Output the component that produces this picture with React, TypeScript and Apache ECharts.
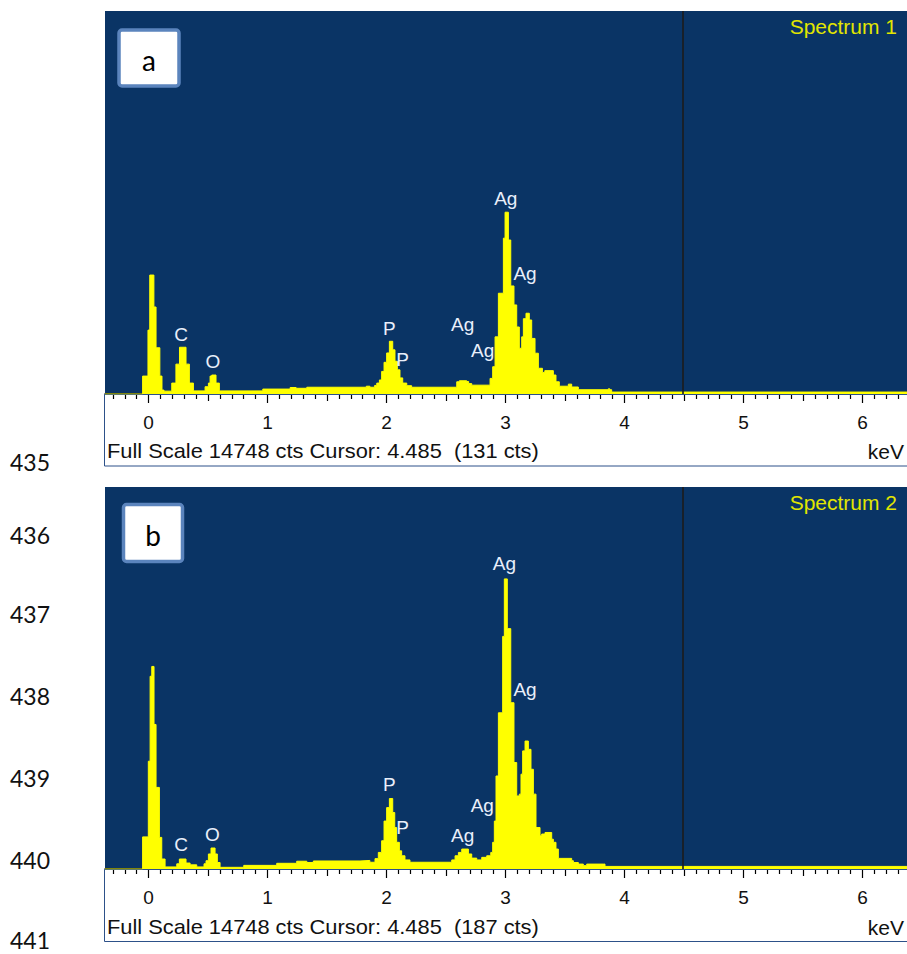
import React, { useEffect, useRef } from "react";
import * as echarts from "echarts";

// ---- data (keV left edge of step, counts) ----
const spectrumA: [number, number][] = [
  [-0.366, 0], [-0.05, 690], [-0.005, 2460], [0.01, 4580], [0.045, 3350], [0.063, 1780],
  [0.095, 690], [0.113, 150], [0.13, 110], [0.195, 420], [0.23, 1150], [0.26, 1800],
  [0.315, 1150], [0.343, 420], [0.377, 120], [0.475, 280], [0.503, 420], [0.517, 690],
  [0.531, 730], [0.567, 420], [0.595, 120], [0.96, 190], [1.19, 250], [1.24, 220],
  [1.33, 260], [1.83, 300], [1.86, 260], [1.9, 330], [1.918, 420], [1.94, 540],
  [1.959, 870], [1.979, 1220], [2.001, 1580], [2.024, 2030], [2.052, 1700], [2.071, 1260],
  [2.091, 930], [2.113, 620], [2.136, 420], [2.17, 320], [2.211, 260], [2.59, 470],
  [2.612, 510], [2.674, 480], [2.69, 400], [2.716, 340], [2.87, 600], [2.892, 1050],
  [2.912, 2200], [2.94, 3880], [2.982, 6000], [2.996, 7000], [3.024, 5930], [3.044, 4160],
  [3.071, 3430], [3.094, 2580], [3.116, 1760], [3.136, 2200], [3.15, 2900], [3.172, 3110],
  [3.2, 2850], [3.22, 2140], [3.248, 1570], [3.276, 990], [3.31, 830], [3.33, 900],
  [3.402, 730], [3.424, 470], [3.452, 300], [3.528, 380], [3.556, 270], [3.612, 165],
  [3.864, 200], [3.876, 165], [3.892, 75], [6.374, 75],
];

const spectrumB: [number, number][] = [
  [-0.366, 0], [-0.05, 1240], [-0.002, 4160], [0.013, 7440], [0.027, 7820], [0.046, 5580],
  [0.063, 3150], [0.091, 1220], [0.111, 385], [0.139, 80], [0.237, 200], [0.259, 385],
  [0.315, 230], [0.349, 160], [0.405, 80], [0.466, 200], [0.483, 320], [0.503, 580],
  [0.525, 810], [0.559, 580], [0.578, 250], [0.601, 65], [0.8, 140], [1.077, 220],
  [1.245, 300], [1.33, 250], [1.385, 310], [1.777, 330], [1.86, 260], [1.903, 400],
  [1.931, 640], [1.959, 1090], [1.979, 1850], [2.001, 2370], [2.024, 2720], [2.052, 2180],
  [2.069, 1600], [2.085, 1030], [2.108, 700], [2.127, 510], [2.155, 350], [2.197, 260],
  [2.548, 350], [2.576, 510], [2.604, 640], [2.632, 770], [2.688, 580], [2.716, 420],
  [2.758, 350], [2.8, 450], [2.842, 510], [2.876, 640], [2.892, 1030], [2.906, 1850],
  [2.92, 3590], [2.94, 6030], [2.976, 8980], [2.99, 11200], [3.015, 9280], [3.044, 6420],
  [3.071, 4110], [3.094, 2820], [3.116, 2890], [3.13, 3660], [3.144, 4560], [3.164, 4940],
  [3.192, 4620], [3.214, 3850], [3.234, 2890], [3.256, 1600], [3.29, 1280], [3.304, 1350],
  [3.332, 1410], [3.388, 1150], [3.402, 1030], [3.424, 770], [3.444, 410], [3.556, 320],
  [3.57, 250], [3.612, 190], [3.654, 130], [3.682, 190], [3.822, 190], [3.836, 100],
  [6.374, 100],
];

// element labels: [name, keV, counts]
const labelsA: [string, number, number][] = [
  ["C", 0.273, 2300], ["O", 0.54, 1240], ["P", 2.024, 2530], ["P", 2.136, 1340],
  ["Ag", 2.64, 2660], ["Ag", 2.808, 1690], ["Ag", 3.002, 7530], ["Ag", 3.164, 4650],
];
const labelsB: [string, number, number][] = [
  ["C", 0.273, 965], ["O", 0.536, 1350], ["P", 2.024, 3270], ["P", 2.136, 1610],
  ["Ag", 2.64, 1310], ["Ag", 2.805, 2440], ["Ag", 2.99, 11780], ["Ag", 3.164, 6940],
];

const majorTicks = [0, 1, 2, 3, 4, 5, 6];
const halfTicks = [0.5, 1.5, 2.5, 3.5, 4.5, 5.5];
const cursorKeV = 4.485;
const fullScale = 14748;
const cursorCounts = [131, 187];
const spectrumNames = ["Spectrum 1", "Spectrum 2"];
const panelLetters = ["a", "b"];
const lineNumbers = ["435", "436", "437", "438", "439", "440", "441"];

const X_MIN = -0.366;
const X_MAX = 6.374;

const minorTicks: number[] = [];
for (let i = -3; i <= 63; i++) if (i % 5 !== 0) minorTicks.push(i / 10);

const FONT = "'Liberation Sans', Arial, sans-serif";
const BLUE = "#0a3465";
const YELLOW = "#ffff00";

export default function App() {
  const ref = useRef<HTMLDivElement>(null);
  useEffect(() => {
    if (!ref.current) return;
    const chart = echarts.init(ref.current, undefined, { renderer: "svg" });

    const grids = [
      { left: 105, top: 11, width: 802, height: 383 },
      { left: 105, top: 487, width: 802, height: 382 },
    ];

    const xAxes: any[] = [];
    const yAxes: any[] = [];
    grids.forEach((_, gi) => {
      xAxes.push({
        gridIndex: gi, type: "value", min: X_MIN, max: X_MAX, position: "bottom",
        axisLine: { show: true, lineStyle: { color: "#000", width: 1.5 } },
        axisTick: { show: true, customValues: majorTicks, length: 9, lineStyle: { color: "#000", width: 1.2 } },
        axisLabel: { show: true, customValues: majorTicks, margin: 19, color: "#111", fontSize: 19, fontFamily: FONT },
        splitLine: { show: false },
      });
      xAxes.push({
        gridIndex: gi, type: "value", min: X_MIN, max: X_MAX, position: "bottom",
        axisLine: { show: false },
        axisTick: { show: true, customValues: halfTicks, length: 7, lineStyle: { color: "#000", width: 1.2 } },
        axisLabel: { show: false },
        splitLine: { show: false },
      });
      xAxes.push({
        gridIndex: gi, type: "value", min: X_MIN, max: X_MAX, position: "bottom",
        axisLine: { show: false },
        axisTick: { show: true, customValues: minorTicks, length: 5, lineStyle: { color: "#000", width: 1.2 } },
        axisLabel: { show: false },
        splitLine: { show: false },
      });
      yAxes.push({ gridIndex: gi, type: "value", min: 0, max: fullScale, show: false, splitLine: { show: false } });
    });

    const specs = [spectrumA, spectrumB];
    const labs = [labelsA, labelsB];
    const series = specs.map((spec, i) => ({
      type: "line",
      xAxisIndex: i * 3,
      yAxisIndex: i,
      data: spec,
      step: "end",
      symbol: "none",
      lineStyle: { color: YELLOW, width: 1 },
      areaStyle: { color: YELLOW, opacity: 1 },
      markLine: {
        silent: true,
        symbol: ["none", "none"],
        label: { show: false },
        lineStyle: { color: "#1c1c1c", width: 1.6, type: "solid" },
        data: [{ xAxis: cursorKeV }],
      },
      markPoint: {
        silent: true,
        symbol: "circle",
        symbolSize: 0,
        label: {
          show: true, position: "inside", formatter: "{b}", color: "#e9effb",
          fontSize: 19, fontFamily: FONT,
        },
        data: labs[i].map(([n, x, y]) => ({ name: n, coord: [x, y] })),
      },
    }));

    const graphic: any[] = [];
    // axis frames
    const frames = [
      { y: 394.5, h: 71.5, textY: 451 },
      { y: 869.5, h: 72, textY: 927 },
    ];
    frames.forEach((f, i) => {
      graphic.push({
        type: "rect", z: 1, shape: { x: 104.5, y: f.y, width: 803, height: f.h },
        style: { fill: "none", stroke: "#2d5189", lineWidth: 1 },
      });
      graphic.push({
        type: "text", z: 5, x: 107, y: f.textY, scaleX: 1.04,
        style: {
          text: `Full Scale ${fullScale} cts Cursor: ${cursorKeV.toFixed(3)}  (${cursorCounts[i]} cts)`,
          fill: "#111", font: `21px ${FONT}`, verticalAlign: "middle", align: "left",
        },
      });
      graphic.push({
        type: "text", z: 5, x: 904, y: f.textY,
        style: { text: "keV", fill: "#111", font: `21px ${FONT}`, verticalAlign: "middle", align: "right" },
      });
    });
    // spectrum names
    [27, 503].forEach((y, i) => {
      graphic.push({
        type: "text", z: 10, x: 897, y, scaleX: 1.05,
        style: { text: spectrumNames[i], fill: "#e2e600", font: `20px ${FONT}`, align: "right", verticalAlign: "middle" },
      });
    });
    // panel letter boxes
    const boxes = [
      { x: 119, y: 30, w: 60, h: 56, cx: 149, cy: 60 },
      { x: 123.5, y: 504.5, w: 59, h: 57, cx: 153, cy: 535 },
    ];
    boxes.forEach((b, i) => {
      graphic.push({
        type: "rect", z: 10, shape: { x: b.x, y: b.y, width: b.w, height: b.h, r: 3 },
        style: { fill: "#ffffff", stroke: "#5b84bd", lineWidth: 3.5 },
      });
      graphic.push({
        type: "text", z: 11, x: b.cx, y: b.cy,
        style: { text: panelLetters[i], fill: "#000", font: `28px Lato, sans-serif`, align: "center", verticalAlign: "middle" },
      });
    });
    // line numbers
    const lineY = [462, 535, 614, 696, 778, 860, 940];
    lineNumbers.forEach((t, i) => {
      graphic.push({
        type: "text", z: 5, x: 30, y: lineY[i],
        style: { text: t, fill: "#111", font: `23px Lato, sans-serif`, align: "center", verticalAlign: "middle" },
      });
    });

    chart.setOption({
      animation: false,
      backgroundColor: "#ffffff",
      grid: grids.map((g) => ({ ...g, show: true, backgroundColor: BLUE, borderWidth: 0, containLabel: false })),
      xAxis: xAxes,
      yAxis: yAxes,
      series,
      graphic,
    });
    return () => chart.dispose();
  }, []);
  return (
    <div
      ref={ref}
      style={{ position: "absolute", left: 0, top: 0, width: 907, height: 954 }}
    />
  );
}
